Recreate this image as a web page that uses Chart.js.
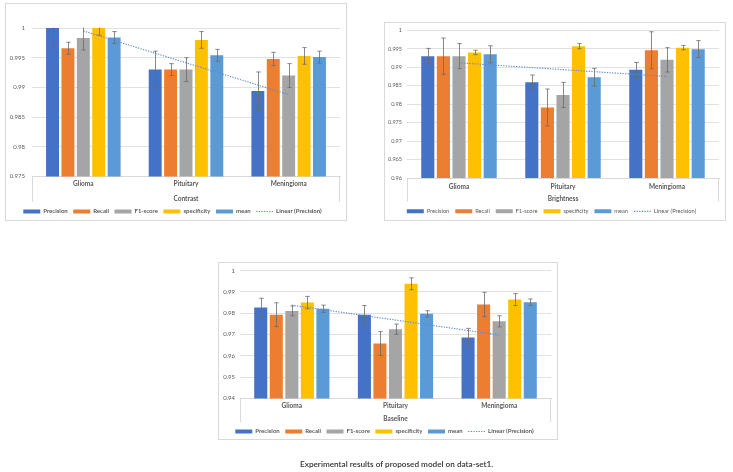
<!DOCTYPE html>
<html>
<head>
<meta charset="utf-8">
<script src="https://cdn.jsdelivr.net/npm/chart.js@4.4.1/dist/chart.umd.min.js"></script>
<style>
html,body{margin:0;padding:0;background:#fff;width:733px;height:472px;overflow:hidden;}
.box{position:absolute;background:#fff;}
.box::after{content:'';position:absolute;left:0;top:0;right:0;bottom:0;border:1px solid #d9d9d9;pointer-events:none;}
.box canvas{position:absolute;left:0;top:0;}
#caption{position:absolute;left:300px;top:458px;font:600 8.2px Lato,"Open Sans",sans-serif;color:#333;white-space:nowrap;line-height:12px;}
</style>
</head>
<body>
<div class="box" id="b1" style="left:5px;top:3px;width:342px;height:218px;"><canvas id="c1" width="342" height="218"></canvas></div>
<div class="box" id="b2" style="left:384px;top:22px;width:342px;height:199px;"><canvas id="c2" width="342" height="199"></canvas></div>
<div class="box" id="b3" style="left:218px;top:262px;width:340px;height:178px;"><canvas id="c3" width="340" height="178"></canvas></div>
<div id="caption">Experimental results of proposed model on data-set1.</div>
<script>
// ---------- DATA ----------
const categories = ['Glioma', 'Pituitary', 'Meningioma'];
const seriesNames = ['Precision', 'Recall', 'F1-score', 'specificity', 'mean'];
const trendName = 'Linear (Precision)';

// Contrast
const contrastPrecision   = [1.0000, 0.9930, 0.9894];
const contrastRecall      = [0.9966, 0.9930, 0.9948];
const contrastF1          = [0.9983, 0.9930, 0.9920];
const contrastSpecificity = [1.0000, 0.9980, 0.9953];
const contrastMean        = [0.9984, 0.9954, 0.9951];
const contrastErrPrecision   = [0.0032, 0.0031, 0.0032];
const contrastErrRecall      = [0.0010, 0.0010, 0.0011];
const contrastErrF1          = [0.0020, 0.0020, 0.0020];
const contrastErrSpecificity = [0.0012, 0.0014, 0.0014];
const contrastErrMean        = [0.0010, 0.0010, 0.0010];
const contrastTrend = [0.9995, null, 0.9888];
const contrastTicks = [0.975, 0.98, 0.985, 0.99, 0.995, 1];
const contrastTickLabels = ['0.975', '0.98', '0.985', '0.99', '0.995', '1'];

// Brightness
const brightnessPrecision   = [0.9930, 0.9859, 0.9893];
const brightnessRecall      = [0.9930, 0.9791, 0.9946];
const brightnessF1          = [0.9930, 0.9825, 0.9920];
const brightnessSpecificity = [0.9940, 0.9957, 0.9953];
const brightnessMean        = [0.9935, 0.9873, 0.9949];
const brightnessErrPrecision   = [0.0021, 0.0020, 0.0020];
const brightnessErrRecall      = [0.0049, 0.0050, 0.0050];
const brightnessErrF1          = [0.0034, 0.0034, 0.0033];
const brightnessErrSpecificity = [0.0006, 0.0007, 0.0006];
const brightnessErrMean        = [0.0023, 0.0024, 0.0023];
const brightnessTrend = [0.9912, null, 0.9875];
const brightnessTicks = [0.96, 0.965, 0.97, 0.975, 0.98, 0.985, 0.99, 0.995, 1];
const brightnessTickLabels = ['0.96', '0.965', '0.97', '0.975', '0.98', '0.985', '0.99', '0.995', '1'];

// Baseline
const baselinePrecision   = [0.9827, 0.9793, 0.9686];
const baselineRecall      = [0.9793, 0.9658, 0.9841];
const baselineF1          = [0.9811, 0.9725, 0.9762];
const baselineSpecificity = [0.9850, 0.9938, 0.9864];
const baselineMean        = [0.9821, 0.9797, 0.9852];
const baselineErrPrecision   = [0.0043, 0.0043, 0.0043];
const baselineErrRecall      = [0.0056, 0.0056, 0.0057];
const baselineErrF1          = [0.0023, 0.0024, 0.0026];
const baselineErrSpecificity = [0.0029, 0.0028, 0.0028];
const baselineErrMean        = [0.0017, 0.0015, 0.0015];
const baselineTrend = [0.9838, null, 0.9698];
const baselineTicks = [0.94, 0.95, 0.96, 0.97, 0.98, 0.99, 1];
const baselineTickLabels = ['0.94', '0.95', '0.96', '0.97', '0.98', '0.99', '1'];

// ---------- STYLE ----------
const palette = ['#4472C4', '#ED7D31', '#A5A5A5', '#FFC000', '#5B9BD5'];
const trendColor = '#5b8ad8';
const textColor = '#595959';
const gridColor = '#d9d9d9';
const FONT = 'Lato, "Open Sans", sans-serif';

const errorBarPlugin = {
  id: 'errorBars',
  afterDatasetsDraw(chart) {
    const {ctx, chartArea, scales} = chart;
    const y = scales.y;
    ctx.save();
    ctx.beginPath();
    ctx.rect(chartArea.left, chartArea.top - 0.5, chartArea.right - chartArea.left, chartArea.bottom - chartArea.top + 1);
    ctx.clip();
    ctx.strokeStyle = '#6b6b6b';
    ctx.lineWidth = 0.8;
    ctx.setLineDash([]);
    chart.data.datasets.forEach((ds, i) => {
      if (!ds.errorBars) return;
      const meta = chart.getDatasetMeta(i);
      meta.data.forEach((bar, j) => {
        const v = ds.data[j], e = ds.errorBars[j];
        const x = Math.round(bar.x) + 0.5;
        const yh = y.getPixelForValue(v + e), yl = y.getPixelForValue(v - e);
        ctx.beginPath();
        ctx.moveTo(x, yh); ctx.lineTo(x, yl);
        ctx.moveTo(x - 2.2, yh); ctx.lineTo(x + 2.2, yh);
        ctx.moveTo(x - 2.2, yl); ctx.lineTo(x + 2.2, yl);
        ctx.stroke();
      });
    });
    ctx.restore();
  }
};

const axisBoxPlugin = {
  id: 'axisBox',
  afterDraw(chart) {
    const {ctx, chartArea, scales} = chart;
    const xs = scales.x;
    ctx.save();
    ctx.strokeStyle = gridColor;
    ctx.lineWidth = 1;
    ctx.beginPath();
    const l = Math.round(chartArea.left) + 0.5, r = Math.round(chartArea.right) - 0.5;
    ctx.moveTo(l, chartArea.bottom); ctx.lineTo(l, xs.bottom - 1);
    ctx.moveTo(r, chartArea.bottom); ctx.lineTo(r, xs.bottom - 1);
    ctx.stroke();
    ctx.restore();
  }
};

function makeChart(id, spec) {
  const L = spec.layout;
  const datasets = seriesNames.map((name, i) => ({
    type: 'bar',
    label: name,
    data: spec.values[i],
    errorBars: spec.errors[i],
    backgroundColor: palette[i],
    borderWidth: 0,
    categoryPercentage: 0.75,
    barPercentage: 0.84,
    order: 1
  }));
  datasets.push({
    type: 'line',
    label: trendName,
    data: spec.trend,
    borderColor: trendColor,
    borderWidth: 1.1,
    borderDash: [1.3, 1.3],
    pointRadius: 0,
    spanGaps: true,
    fill: false,
    order: -1
  });
  return new Chart(document.getElementById(id), {
    data: {labels: categories, datasets},
    options: {
      responsive: false,
      animation: false,
      devicePixelRatio: 1,
      layout: {padding: {top: L.padTop, right: L.padRight, left: 0, bottom: 0}},
      plugins: {
        tooltip: {enabled: false},
        legend: {
          position: 'bottom',
          maxHeight: L.legendH,
          labels: {
            usePointStyle: true,
            pointStyleWidth: 17,
            boxHeight: 4,
            padding: L.legendPad,
            color: textColor,
            font: {family: FONT, size: L.legendSize, weight: L.legendWeight},
            generateLabels(chart) {
              return chart.data.datasets.map((ds, i) => {
                const isLine = ds.type === 'line';
                return {
                  text: ds.label,
                  fillStyle: isLine ? 'rgba(0,0,0,0)' : ds.backgroundColor,
                  strokeStyle: isLine ? ds.borderColor : ds.backgroundColor,
                  lineWidth: isLine ? 1.1 : 0,
                  lineDash: isLine ? [1.3, 1.3] : [],
                  pointStyle: isLine ? 'line' : 'rect',
                  hidden: false,
                  datasetIndex: i,
                  fontColor: textColor
                };
              });
            }
          }
        }
      },
      scales: {
        x: {
          type: 'category',
          grid: {display: false, drawTicks: false},
          border: {display: true, color: gridColor},
          ticks: {
            color: textColor,
            padding: L.tickPad,
            maxRotation: 0,
            autoSkip: false,
            font: {family: FONT, size: 6.5, weight: 'bold'}
          },
          title: {
            display: true,
            text: spec.title,
            color: textColor,
            padding: {top: 0, bottom: 0},
            font: {family: FONT, size: 6.5, weight: 'bold'}
          },
          afterFit(scale) { scale.height = L.xH; }
        },
        y: {
          type: 'linear',
          min: spec.ticks[0],
          max: spec.ticks[spec.ticks.length - 1],
          grid: {color: gridColor, lineWidth: 0.8, drawTicks: false},
          border: {display: false},
          afterBuildTicks(scale) {
            scale.ticks = spec.ticks.map(v => ({value: v}));
          },
          ticks: {
            color: textColor,
            padding: L.yPad,
            font: {family: FONT, size: L.ySize},
            callback(value) {
              const k = spec.ticks.findIndex(t => Math.abs(t - value) < 1e-9);
              return k >= 0 ? spec.tickLabels[k] : '';
            }
          },
          afterFit(scale) { scale.width = L.yW; }
        }
      }
    },
    plugins: [errorBarPlugin, axisBoxPlugin]
  });
}

makeChart('c1', {
  title: 'Contrast',
  values: [contrastPrecision, contrastRecall, contrastF1, contrastSpecificity, contrastMean],
  errors: [contrastErrPrecision, contrastErrRecall, contrastErrF1, contrastErrSpecificity, contrastErrMean],
  trend: contrastTrend,
  ticks: contrastTicks,
  tickLabels: contrastTickLabels,
  layout: {padTop: 25, padRight: 7, yW: 27, yPad: 7, ySize: 6, xH: 26.5, tickPad: 3.8, legendH: 18, legendPad: 5.5, legendSize: 6, legendWeight: 'bold'}
});

makeChart('c2', {
  title: 'Brightness',
  values: [brightnessPrecision, brightnessRecall, brightnessF1, brightnessSpecificity, brightnessMean],
  errors: [brightnessErrPrecision, brightnessErrRecall, brightnessErrF1, brightnessErrSpecificity, brightnessErrMean],
  trend: brightnessTrend,
  ticks: brightnessTicks,
  tickLabels: brightnessTickLabels,
  layout: {padTop: 7, padRight: 7, yW: 23, yPad: 5, ySize: 5.5, xH: 24.5, tickPad: 4.8, legendH: 18.5, legendPad: 6, legendSize: 5.7, legendWeight: 'normal'}
});

makeChart('c3', {
  title: 'Baseline',
  values: [baselinePrecision, baselineRecall, baselineF1, baselineSpecificity, baselineMean],
  errors: [baselineErrPrecision, baselineErrRecall, baselineErrF1, baselineErrSpecificity, baselineErrMean],
  trend: baselineTrend,
  ticks: baselineTicks,
  tickLabels: baselineTickLabels,
  layout: {padTop: 7, padRight: 7, yW: 22, yPad: 5, ySize: 6, xH: 24.5, tickPad: 3.8, legendH: 17, legendPad: 5.5, legendSize: 6, legendWeight: 'bold'}
});
</script>
</body>
</html>
